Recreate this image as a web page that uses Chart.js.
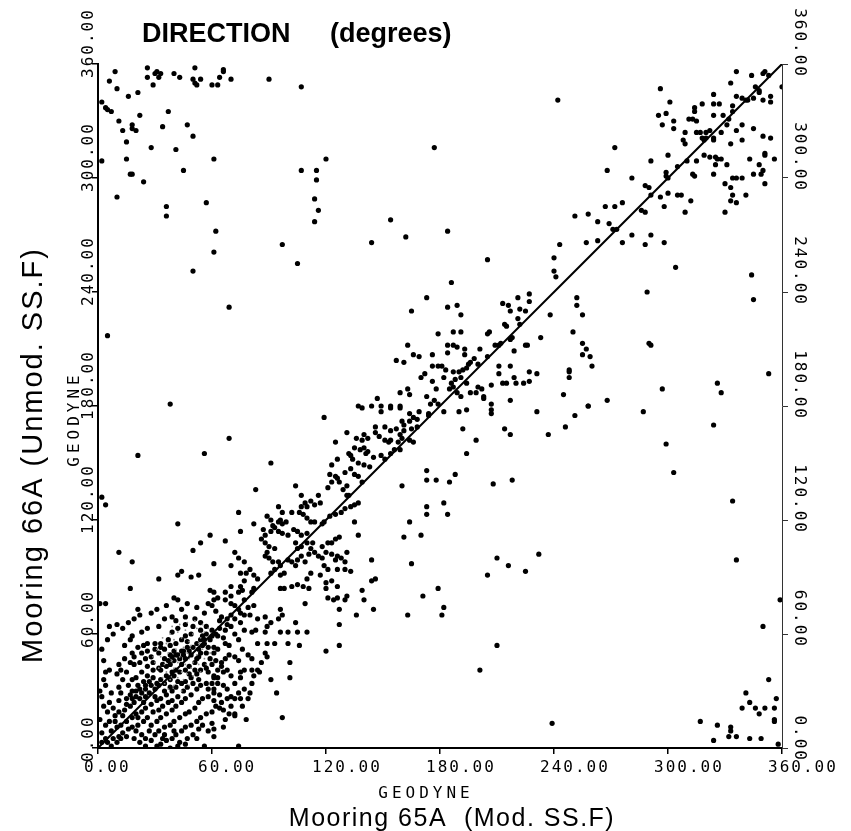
<!DOCTYPE html>
<html><head><meta charset="utf-8">
<script src="https://cdn.jsdelivr.net/npm/chart.js@4.4.1/dist/chart.umd.min.js"></script>
<style>html,body{margin:0;padding:0;background:#fff}#wrap{width:851px;height:831px}</style>
</head><body><div id="wrap"><canvas id="c" width="851" height="831"></canvas></div>
<script>
const tickValues = [0,60,120,180,240,300,360];
const tickLabels = ['0.00','60.00','120.00','180.00','240.00','300.00','360.00'];
const titleWords = ['DIRECTION','(degrees)'];
const xAxisTitle = 'Mooring 65A  (Mod. SS.F)';
const yAxisTitle = 'Mooring 66A (Unmod. SS.F)';
const instrumentLabel = 'GEODYNE';
const diagonal = [[0,0],[360,360]];

const upperLeftPts = [[9,356],[26,358],[31,356],[33,355],[30,355],[26,353],[32,353],[40,355],[43,353],[51,358],[50,352],[51,350],[52,349],[54,352],[64,353],[66,357],[66,356],[70,352],[60,349],[63,349],[90,352],[107,348],[6,351],[10,347],[29,349],[16,343],[21,345],[2,340],[4,337],[5,336],[7,335],[11,330],[13,325],[18,328],[18,326],[20,325],[22,333],[34,327],[37,335],[47,328],[50,322],[15,319],[28,316],[41,315],[15,310],[61,310],[17,302],[18,302],[24,298],[45,304],[2,309],[10,290],[36,285],[36,280],[57,287],[62,272],[61,261],[50,251],[97,265],[105,255],[69,232],[5,217],[107,304],[115,304],[115,299],[120,310],[114,289],[116,283],[114,277],[154,278],[162,269],[144,266],[177,316],[173,237],[165,230],[38,181],[242,341]];

const upperBandPts = [[179,218],[163,212],[176,207],[166,207],[169,206],[157,204],[161,203],[176,201],[179,201],[172,197],[170,195],[176,193],[178,189],[163,189],[159,187],[164,186],[173,185],[177,183],[147,184],[137,180],[144,180],[149,180],[154,180],[159,180],[175,181],[179,181],
[336,356],[344,354],[350,355],[351,356],[353,354],[333,350],[296,347],[348,346],[348,345],[346,348],[360,348],[301,340],[324,344],[336,343],[339,342],[341,341],[342,341],[345,342],[350,341],[354,343],[354,340],[318,339],[314,337],[314,335],[324,339],[327,339],[334,338],[334,335],[295,333],[299,334],[311,331],[313,331],[315,330],[303,330],[297,328],[324,333],[329,333],[332,331],[331,328],[339,328],[345,326],[336,325],[303,326],[309,324],[315,324],[317,324],[320,324],[322,325],[318,321],[319,320],[320,321],[324,321],[328,324],[324,320],[308,320],[309,318],[333,318],[339,320],[350,322],[354,321],[272,316],[291,309],[300,312],[305,306],[310,309],[315,309],[319,312],[322,311],[325,311],[326,310],[328,310],[325,307],[331,307],[343,310],[351,313],[351,312],[356,310],[348,307],[350,304],[345,302],[349,302],[351,297],[324,302],[313,302],[314,301],[299,303],[299,301],[300,300],[281,300],[268,304],[288,296],[290,295],[291,291],[296,290],[300,292],[305,291],[307,291],[312,288],[298,285],[309,282],[330,297],[333,295],[334,300],[336,300],[339,300],[334,291],[333,288],[336,287],[341,291],[330,282],[286,283],[288,282],[267,285],[272,285],[276,287],[251,280],[258,281],[263,277],[269,276],[271,273],[273,273],[281,270],[291,270],[288,265],[298,266],[276,266],[257,266],[263,267],[243,265],[240,258],[240,251],[241,248],[184,272],[205,257],[186,245],[304,253],[289,240],[344,249],[345,236],[252,237],[252,233],[255,228],[250,219],[255,213],[257,210],[255,207],[259,206],[260,201],[248,199],[248,198],[248,195],[290,213],[291,212],[353,197],[326,192],[328,187],[297,189],[268,183],[245,186],[258,180],[238,228],[233,216],[227,239],[227,235],[221,237],[213,234],[216,233],[222,231],[225,230],[217,230],[221,226],[222,223],[214,223],[215,222],[205,218],[206,219],[187,219],[191,219],[191,228],[189,233],[184,232],[218,216],[217,215],[212,213],[211,212],[209,212],[226,212],[225,212],[219,209],[201,210],[193,210],[187,212],[189,211],[184,212],[184,208],[193,207],[198,205],[196,203],[195,202],[194,200],[192,199],[190,198],[187,198],[183,199],[181,201],[200,202],[205,206],[211,201],[217,201],[227,198],[231,197],[211,197],[219,195],[215,192],[220,192],[224,192],[227,193],[213,192],[207,191],[200,190],[194,192],[188,194],[186,192],[187,190],[185,189],[196,187],[199,187],[203,185],[203,184],[207,181],[217,183],[189,187],[191,185],[202,189],[191,195],[182,195]];

const lowerRightPts = [[182,177],[190,177],[194,178],[207,178],[207,176],[231,177],[258,180],[251,175],[287,177],[324,170],[192,168],[214,168],[217,165],[237,165],[246,169],[199,162],[194,155],[188,144],[185,140],[208,139],[218,141],[299,160],[303,145],[334,130],[182,129],[184,123],[210,100],[216,96],[225,93],[232,102],[205,91],[182,74],[181,70],[336,99],[359,78],[350,64],[210,54],[201,41],[239,13],[353,36],[341,29],[343,24],[339,21],[346,21],[348,18],[351,21],[356,21],[357,26],[356,15],[356,14],[317,14],[326,12],[333,11],[333,9],[332,6],[336,6],[324,4],[343,5],[349,5],[358,2]];

const midBandPts = [[119,174],[139,179],[149,177],[154,179],[159,179],[164,176],[169,177],[174,176],[160,172],[164,172],[161,170],[166,174],[168,173],[174,175],[151,169],[154,167],[157,168],[159,165],[161,167],[165,168],[168,169],[146,169],[146,166],[148,164],[151,162],[153,161],[154,162],[158,161],[159,157],[160,163],[164,162],[166,161],[140,165],[142,163],[139,162],[136,163],[135,158],[138,157],[140,158],[142,156],[141,155],[145,153],[149,154],[151,152],[154,155],[156,157],[131,166],[125,161],[126,152],[132,155],[133,154],[134,152],[137,150],[140,149],[143,148],[123,149],[122,144],[125,143],[126,142],[130,145],[133,147],[135,144],[137,143],[139,140],[131,138],[129,136],[131,133],[132,133],[127,140],[123,140],[121,137],[116,133],[117,129],[114,128],[112,130],[110,127],[109,129],[107,127],[106,124],[108,123],[110,121],[112,119],[114,119],[118,118],[119,119],[122,122],[125,123],[128,124],[130,126],[133,127],[135,128],[137,129],[135,119],[137,112],[127,111],[125,110],[123,108],[121,108],[118,106],[113,108],[110,108],[107,106],[105,105],[104,108],[100,112],[97,113],[95,114],[93,116],[91,114],[92,117],[95,119],[96,120],[97,118],[99,119],[103,115],[105,114],[107,112],[110,113],[89,122],[91,120],[97,124],[95,127],[102,124],[104,138],[107,133],[83,136],[91,150],[82,118],[87,115],[88,112],[86,110],[88,108],[90,106],[93,105],[89,103],[88,101],[90,100],[92,98],[95,98],[96,96],[93,94],[91,92],[96,91],[98,92],[100,99],[102,98],[104,96],[105,99],[107,101],[109,98],[111,102],[112,105],[114,103],[116,101],[118,100],[120,103],[123,102],[125,99],[126,101],[128,100],[130,98],[131,103],[133,93],[130,94],[126,94],[121,94],[119,96],[117,91],[112,92],[110,89],[105,86],[108,85],[111,84],[102,85],[98,84],[96,84],[120,87],[123,88],[120,84],[126,85],[131,80],[130,78],[126,79],[124,78],[121,79],[140,78],[139,83],[144,88],[146,89],[144,99],[160,138],[173,146],[173,141],[178,141],[173,127],[173,123],[164,119],[161,111],[170,112],[165,97],[179,84],[171,80],[163,70],[145,73],[136,70],[127,73],[127,65],[120,51],[127,54],[109,76],[96,73],[97,70],[91,66],[95,68],[88,69],[89,64],[88,61],[84,68],[82,75],[79,74],[80,70],[77,70],[75,71],[74,73],[72,75],[70,76],[70,70],[72,68],[75,66],[77,62],[81,61],[83,62],[84,55],[89,55],[93,55],[88,50],[89,48],[100,55],[106,54],[100,61],[105,61],[110,61],[96,61],[104,66],[101,45],[101,37],[94,29],[97,16],[91,36],[85,40],[81,41],[77,41],[75,40],[75,37],[72,34],[74,29],[75,26],[72,26],[70,22],[72,18],[67,15],[66,11],[64,21],[61,25],[61,29],[58,31],[60,34],[61,38],[63,41],[65,45],[67,47],[69,49],[72,48],[74,46],[69,54],[67,55],[63,52],[61,50],[58,53],[55,54],[53,52],[56,57],[60,59],[63,59],[67,62],[70,64],[68,68],[65,69],[62,72],[60,75],[58,76],[61,78],[63,79],[67,78],[70,80],[74,82],[76,83],[81,82],[82,84],[77,78],[61,82],[59,83],[53,91],[42,91],[44,93],[49,90],[40,79],[42,78],[32,89],[21,73],[17,84],[18,98],[11,103],[4,76],[6,64],[2,132],[4,128],[21,154],[56,155],[69,163],[74,124],[67,109],[61,97],[50,104],[59,112],[42,118],[54,108],[75,114],[72,103],[74,100],[77,98],[80,94],[82,91],[84,89],[77,88],[75,85],[70,85],[67,82],[70,96],[75,92],[78,92]];

const lowClusterPts = [[1,76],[14,54],[17,57],[18,59],[23,61],[26,63],[32,64],[35,68],[39,69],[41,67],[46,69],[51,68],[54,66],[57,64],[60,62],[54,62],[50,64],[46,65],[42,63],[39,61],[37,57],[33,55],[30,55],[26,55],[24,54],[21,53],[18,50],[14,47],[17,45],[19,44],[22,45],[25,47],[28,48],[32,50],[35,52],[38,54],[41,55],[44,57],[46,59],[49,60],[54,57],[56,55],[54,50],[53,48],[51,45],[48,43],[46,41],[43,40],[40,38],[38,36],[35,34],[32,33],[30,31],[27,29],[25,27],[22,26],[19,24],[17,22],[14,20],[11,19],[9,17],[6,14],[4,12],[2,8],[7,9],[10,11],[12,12],[15,14],[18,16],[20,18],[23,19],[25,21],[28,23],[31,25],[33,26],[36,28],[39,30],[41,32],[44,34],[46,35],[49,37],[52,39],[54,41],[57,42],[60,44],[62,46],[58,40],[61,37],[63,34],[66,33],[68,31],[70,27],[68,26],[65,24],[62,22],[60,19],[57,18],[54,16],[52,14],[49,12],[46,11],[44,9],[41,7],[39,5],[36,4],[33,2],[31,1],[28,4],[25,5],[23,7],[20,9],[18,11],[15,6],[12,5],[10,3],[7,1],[4,5],[2,3],[11,25],[7,29],[4,33],[3,36],[4,40],[6,41],[10,39],[13,36],[16,33],[18,30],[21,33],[24,35],[26,38],[29,41],[32,42],[34,44],[37,46],[39,48],[42,49],[45,51],[47,53],[49,49],[46,47],[44,44],[41,41],[39,40],[36,38],[33,36],[31,34],[28,33],[25,31],[23,29],[20,27],[18,26],[15,26],[12,29],[11,32],[26,43],[29,45],[23,40],[20,37],[18,36],[15,40],[12,41],[11,44],[19,48],[23,50],[26,51],[30,52],[33,53],[35,47],[38,49],[40,51],[65,43],[68,41],[70,38],[61,31],[58,27],[55,26],[53,24],[51,21],[48,19],[46,18],[43,16],[40,14],[38,12],[35,11],[32,9],[30,7],[28,12],[31,14],[33,16],[36,18],[39,20],[41,22],[44,24],[46,26],[49,28],[52,31],[54,33],[57,34],[53,36],[50,34],[47,32],[45,30],[42,27],[39,25],[37,24],[34,22],[32,20],[29,19],[26,16],[24,14],[21,12],[16,10],[13,8],[11,6],[8,5],[5,3],[19,5],[22,3],[25,1],[35,7],[40,9],[43,3],[47,5],[50,7],[53,10],[55,12],[60,13],[61,10],[61,6],[56,1],[42,1],[38,0],[72,17],[74,1],[78,15],[76,22],[79,26],[80,29],[77,31],[81,34],[82,38],[84,41],[86,45],
[29,37],[33,41],[36,43],[40,46],[43,47],[45,49],[48,51],[50,53],[52,55],[55,59],[57,60],[59,57],[62,60],[64,63],[66,58],[38,44],[41,49],[44,51],[47,56],[27,35],[25,33],[22,31],[20,30],[17,28],[15,23],[13,17],[9,14],[8,21],[6,24],[5,19],[3,22],[2,27],[1,30],[1,15],[3,46],[2,52],[5,57],[8,60],[10,65],[13,63],[16,66],[19,68],[22,70],[28,71],[31,73],[36,75],[44,73],[47,76],[52,74],[56,71],[64,67],[68,65],[72,60],[74,57],[76,52],[79,49],[81,47],[66,40],[63,37],[64,28],[66,20],[69,18],[58,9],[52,5],[46,2],[34,5],[27,9],[21,16],[24,24],[30,27],[35,30],[38,32],[42,35],[48,39],[51,41],[56,44],[59,47],[61,53],[57,50],[52,47]];

const faintPts = [[38,60],[40,57],[42,61],[44,58],[46,62],[48,56],[50,60],[52,63],[54,58],[56,61],[45,53],[47,50],[49,54],[51,51],[53,55],[43,48],[41,52],[39,46],[37,50],[35,44],[33,48],[40,42],[42,45],[44,40],[46,44],[48,47],[36,40],[34,37],[38,36],[32,42],[30,45],[50,45],[52,49],[55,52],[57,56],[58,63],[55,65],[51,67],[47,66],[43,65],[39,64],[36,55],[34,58],[31,52],[29,48],[45,36],[47,39],[49,42],[53,44],[56,47],[42,37],[40,33],[37,31],[35,34],[44,30],[48,33],[50,38],[54,40],[57,44],[59,50]];

const toXY = a => a.map(p => ({x:p[0], y:p[1]}));
const blackPts = [].concat(upperLeftPts, upperBandPts, lowerRightPts, midBandPts, lowClusterPts);

const MONO = '"DejaVu Sans Mono", monospace';
const SANS = '"Liberation Sans", Arial, sans-serif';

const textPlugin = {
  id: 'texts',
  afterDraw(chart) {
    const ctx = chart.ctx, xs = chart.scales.x, ys = chart.scales.y;
    ctx.save();
    ctx.fillStyle = '#000';
    ctx.textBaseline = 'alphabetic';
    ctx.textAlign = 'left';
    ctx.font = 'bold 27px ' + SANS;
    ctx.fillText(titleWords[0], 142, 42);
    ctx.fillText(titleWords[1], 330, 42);

    ctx.font = '16px ' + MONO;
    ctx.letterSpacing = '2px';
    tickValues.forEach((v, i) => {
      const lab = tickLabels[i];
      const px = xs.getPixelForValue(v);
      ctx.fillText(lab, px - 14, 772);
      const py = ys.getPixelForValue(v);
      ctx.save(); ctx.translate(93, py + 14); ctx.rotate(-Math.PI / 2); ctx.fillText(lab, 0, 0); ctx.restore();
      const w = ctx.measureText(lab).width;
      ctx.save(); ctx.translate(795, py + 14 - w); ctx.rotate(Math.PI / 2); ctx.fillText(lab, 0, 0); ctx.restore();
    });
    ctx.letterSpacing = '4px';
    ctx.textAlign = 'center';
    ctx.fillText(instrumentLabel, 426, 798);
    ctx.save(); ctx.translate(79, 419); ctx.rotate(-Math.PI / 2); ctx.fillText(instrumentLabel, 0, 0); ctx.restore();

    ctx.letterSpacing = '1.5px';
    ctx.font = '25px ' + SANS;
    ctx.fillText(xAxisTitle, 452, 826);
    ctx.letterSpacing = '2px';
    ctx.font = '29px ' + SANS;
    ctx.save(); ctx.translate(42, 455); ctx.rotate(-Math.PI / 2); ctx.fillText(yAxisTitle, 0, 0); ctx.restore();
    ctx.restore();
  }
};

const axisCommon = {
  type: 'linear', min: 0, max: 360,
  ticks: { stepSize: 60, display: false },
  grid: { drawOnChartArea: false, drawTicks: true, tickLength: 6, color: '#000', lineWidth: 1.5 },
};

new Chart(document.getElementById('c'), {
  type: 'scatter',
  data: { datasets: [
    { type: 'line', data: toXY(diagonal), borderColor: '#000', borderWidth: 2, pointRadius: 0, fill: false },
    { data: toXY(faintPts), pointRadius: 0.9, backgroundColor: '#8c8c8c', borderWidth: 0 },
    { data: toXY(blackPts), pointRadius: 2.6, backgroundColor: '#000', borderWidth: 0 }
  ]},
  options: {
    responsive: false, animation: false, devicePixelRatio: 1,
    layout: { padding: { top: 64, left: 0, right: 0, bottom: 0 } },
    plugins: { legend: { display: false }, tooltip: { enabled: false }, title: { display: false } },
    scales: {
      x: Object.assign({}, axisCommon, { position: 'bottom', border: { display: true, color: '#000', width: 2 }, afterFit(s) { s.height = 83; } }),
      y: Object.assign({}, axisCommon, { position: 'left', border: { display: true, color: '#000', width: 2 }, afterFit(s) { s.width = 98; } }),
      y2: Object.assign({}, axisCommon, { position: 'right', border: { display: true, color: '#333', width: 1 }, grid: { drawOnChartArea: false, drawTicks: true, tickLength: 6, color: '#333', lineWidth: 1 }, afterFit(s) { s.width = 69; } })
    }
  },
  plugins: [textPlugin]
});
</script>
</body></html>
